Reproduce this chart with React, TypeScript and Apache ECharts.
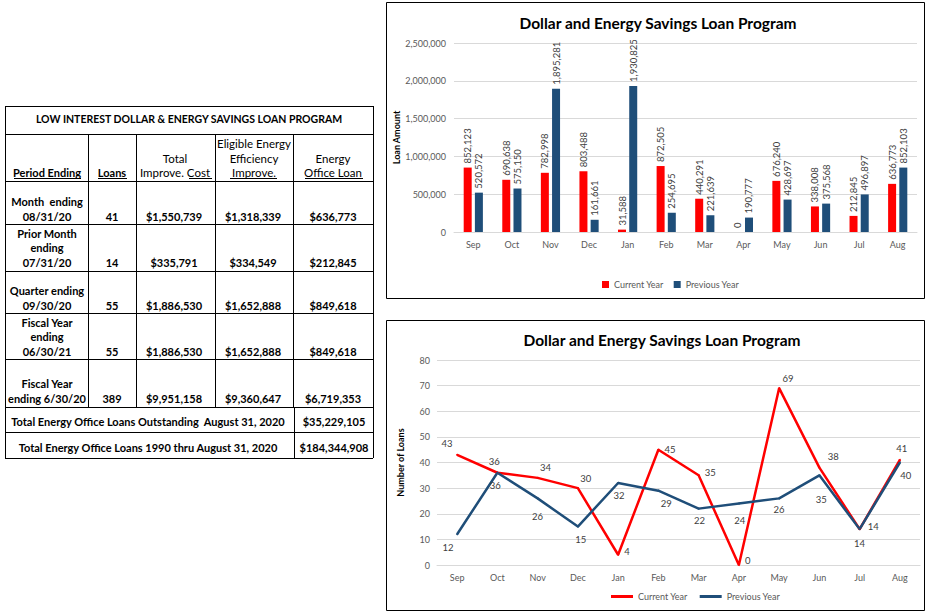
import React, { useEffect, useRef } from "react";
import * as echarts from "echarts";

const months = ["Sep", "Oct", "Nov", "Dec", "Jan", "Feb", "Mar", "Apr", "May", "Jun", "Jul", "Aug"];
const amountCurrent = [852123, 690638, 782998, 803488, 31588, 872505, 440291, 0, 676240, 338008, 212845, 636773];
const amountPrevious = [520572, 575150, 1895281, 161661, 1930825, 254695, 221639, 190777, 428697, 375568, 496897, 852103];
const countCurrent = [43, 36, 34, 30, 4, 45, 35, 0, 69, 38, 14, 41];
const countPrevious = [12, 36, 26, 15, 32, 29, 22, 24, 26, 35, 14, 40];

const chartTitle = "Dollar and Energy Savings Loan Program";
const seriesNames = ["Current Year", "Previous Year"];

const tableTitle = "LOW INTEREST DOLLAR & ENERGY SAVINGS LOAN PROGRAM";
const periodLabels = [
  ["Month  ending", "08/31/20"],
  ["Prior Month", "ending", "07/31/20"],
  ["Quarter ending", "09/30/20"],
  ["Fiscal Year", "ending", "06/30/21"],
  ["Fiscal Year", "ending 6/30/20"],
];
const loansCol = ["41", "14", "55", "55", "389"];
const totalImproveCost = ["$1,550,739", "$335,791", "$1,886,530", "$1,886,530", "$9,951,158"];
const eligibleImprove = ["$1,318,339", "$334,549", "$1,652,888", "$1,652,888", "$9,360,647"];
const officeLoan = ["$636,773", "$212,845", "$849,618", "$849,618", "$6,719,353"];
const totalsLabels = [
  "Total Energy Office Loans Outstanding  August 31, 2020",
  "Total Energy Office Loans 1990 thru August 31, 2020",
];
const totalsValues = ["$35,229,105", "$184,344,908"];

// label placement styling for the line chart (not data)
const curLabelPlace: [string, number[]][] = [
  ["top", [-10, 0]], ["top", [-3, 0]], ["top", [8, 1]], ["top", [8, 1]], ["right", [0, -3]], ["right", [0, 0]],
  ["right", [0, -3]], ["right", [0, -5]], ["top", [9, 1]], ["top", [14, 0]], ["right", [2, -3]], ["top", [2, 0]],
];
const prevLabelPlace: [string, number[]][] = [
  ["bottom", [-9, 2]], ["bottom", [-2, 2]], ["bottom", [0, 7]], ["bottom", [3, 2]], ["bottom", [1, 1]], ["bottom", [8, 2]],
  ["bottom", [1, 1]], ["bottom", [1, 6]], ["bottom", [0, 0]], ["bottom", [2, 13]], ["bottom", [0, 3]], ["bottom", [6, 2]],
];

const RED = "#ff0000";
const BLUE = "#1f4e79";
const FONT = "Lato";

function buildTable(): any[] {
  const els: any[] = [];
  const xs = [5, 88, 136, 215, 293, 373];
  const ys = [106, 134, 181, 224, 271, 313, 359, 407, 432, 458];
  const lineStyle = { stroke: "#000", lineWidth: 1 };
  const ln = (x1: number, y1: number, x2: number, y2: number) =>
    els.push({ type: "line", shape: { x1, y1, x2, y2 }, style: lineStyle, silent: true });
  ys.forEach((y) => ln(xs[0], y + 0.5, xs[5], y + 0.5));
  ln(xs[0] + 0.5, ys[0], xs[0] + 0.5, ys[9]);
  ln(xs[5] + 0.5, ys[0], xs[5] + 0.5, ys[9]);
  for (let i = 1; i < 5; i++) ln(xs[i] + 0.5, ys[1], xs[i] + 0.5, ys[7]);
  ln(294.5, ys[7], 294.5, ys[9]);

  const txt = (text: string, x: number, y: number, bold = true, size = 11) =>
    els.push({
      type: "text",
      x,
      y,
      silent: true,
      style: {
        text,
        fill: "#000",
        font: `${bold ? "bold " : ""}${size}px ${FONT}`,
        align: "center",
        verticalAlign: "middle",
      },
    });
  txt(tableTitle, 189, 119, true, 10.5);
  txt("Period Ending", 47, 172);
  txt("Loans", 112, 172);
  txt("Total", 175, 158, false, 11.5);
  txt("Improve. Cost", 175, 172, false, 11.5);
  txt("Eligible Energy", 254, 143, false, 11.5);
  txt("Efficiency", 254, 158, false, 11.5);
  txt("Improve.", 254, 172, false, 11.5);
  txt("Energy", 333, 158, false, 11.5);
  txt("Office Loan", 333, 172, false, 11.5);
  ln(14, 178.5, 81, 178.5);
  ln(98, 178.5, 127, 178.5);
  ln(189, 178.5, 212, 178.5);
  ln(230, 178.5, 277, 178.5);
  ln(305, 178.5, 363, 178.5);

  const valueY = [216, 262, 305, 351, 398];
  periodLabels.forEach((lines, r) => {
    const n = lines.length;
    lines.forEach((s, k) => txt(s, 47, valueY[r] - (n - 1 - k) * 14.5));
    txt(loansCol[r], 112, valueY[r]);
    txt(totalImproveCost[r], 174, valueY[r]);
    txt(eligibleImprove[r], 253, valueY[r]);
    txt(officeLoan[r], 333, valueY[r]);
  });
  txt(totalsLabels[0], 148, 421);
  txt(totalsValues[0], 334, 421);
  txt(totalsLabels[1], 148, 447);
  txt(totalsValues[1], 334, 447);
  return els;
}

export default function App() {
  const ref = useRef<HTMLDivElement>(null);
  useEffect(() => {
    if (!ref.current) return;
    const chart = echarts.init(ref.current, undefined, { renderer: "svg" });
    const axisLabel = { color: "#595959", fontSize: 9, fontFamily: FONT };
    const barLabel = {
      show: true,
      position: "top",
      rotate: 90,
      align: "left",
      verticalAlign: "middle",
      distance: 4,
      color: "#404040",
      fontSize: 9.5,
      fontFamily: FONT,
      formatter: (p: any) => Number(p.value).toLocaleString("en-US"),
    };
    const lineLabelItem = (v: number, place: [string, number[]]) => ({
      value: v,
      label: { position: place[0], offset: place[1] },
    });
    const option: any = {
      animation: false,
      textStyle: { fontFamily: FONT },
      title: [
        {
          text: chartTitle,
          left: 653,
          top: 10,
          textAlign: "center",
          textStyle: { fontSize: 15.5, fontWeight: "bold", color: "#000", fontFamily: FONT },
        },
        {
          text: chartTitle,
          left: 657,
          top: 327,
          textAlign: "center",
          textStyle: { fontSize: 15.5, fontWeight: "bold", color: "#000", fontFamily: FONT },
        },
      ],
      legend: [
        {
          data: seriesNames,
          left: 597,
          top: 275,
          icon: "rect",
          itemWidth: 7,
          itemHeight: 7,
          itemGap: 10,
          textStyle: { fontSize: 9, color: "#595959", fontFamily: FONT },
        },
        {
          data: seriesNames,
          left: 606,
          top: 587,
          icon: "rect",
          itemWidth: 22,
          itemHeight: 3,
          itemGap: 12,
          textStyle: { fontSize: 9, color: "#595959", fontFamily: FONT },
        },
      ],
      grid: [
        { left: 454, right: 10, top: 43, height: 189, containLabel: false },
        { left: 437, right: 7, top: 360, height: 205, containLabel: false },
      ],
      xAxis: [
        {
          type: "category",
          gridIndex: 0,
          data: months,
          axisTick: { show: false },
          axisLine: { lineStyle: { color: "#d9d9d9" } },
          axisLabel: { ...axisLabel, margin: 8 },
        },
        {
          type: "category",
          gridIndex: 1,
          data: months,
          axisTick: { show: false },
          axisLine: { lineStyle: { color: "#d9d9d9" } },
          axisLabel: { ...axisLabel, margin: 8 },
        },
      ],
      yAxis: [
        {
          type: "value",
          gridIndex: 0,
          min: 0,
          max: 2500000,
          interval: 500000,
          name: "Loan Amount",
          nameLocation: "middle",
          nameRotate: 90,
          nameGap: 52,
          nameTextStyle: { fontWeight: "bold", fontSize: 9, color: "#000", fontFamily: FONT },
          axisLabel: { ...axisLabel, margin: 8, formatter: (v: number) => v.toLocaleString("en-US") },
          splitLine: { lineStyle: { color: "#d9d9d9" } },
          axisLine: { show: false },
          axisTick: { show: false },
        },
        {
          type: "value",
          gridIndex: 1,
          min: 0,
          max: 80,
          interval: 10,
          name: "Number of Loans",
          nameLocation: "middle",
          nameRotate: 90,
          nameGap: 32,
          nameTextStyle: { fontWeight: "bold", fontSize: 9, color: "#000", fontFamily: FONT },
          axisLabel: { ...axisLabel, margin: 7 },
          splitLine: { lineStyle: { color: "#d9d9d9" } },
          axisLine: { show: false },
          axisTick: { show: false },
        },
      ],
      series: [
        {
          name: seriesNames[0],
          type: "bar",
          xAxisIndex: 0,
          yAxisIndex: 0,
          data: amountCurrent,
          barWidth: 8,
          barGap: "40%",
          itemStyle: { color: RED },
          label: barLabel,
        },
        {
          name: seriesNames[1],
          type: "bar",
          xAxisIndex: 0,
          yAxisIndex: 0,
          data: amountPrevious,
          barWidth: 8,
          barGap: "40%",
          itemStyle: { color: BLUE },
          label: barLabel,
        },
        {
          name: seriesNames[0],
          type: "line",
          xAxisIndex: 1,
          yAxisIndex: 1,
          data: countCurrent.map((v, i) => lineLabelItem(v, curLabelPlace[i])),
          symbol: "circle",
          symbolSize: 2,
          lineStyle: { color: RED, width: 2.5 },
          itemStyle: { color: RED },
          label: { show: true, color: "#404040", fontSize: 9.5, fontFamily: FONT },
        },
        {
          name: seriesNames[1],
          type: "line",
          xAxisIndex: 1,
          yAxisIndex: 1,
          data: countPrevious.map((v, i) => lineLabelItem(v, prevLabelPlace[i])),
          symbol: "circle",
          symbolSize: 2,
          lineStyle: { color: BLUE, width: 2.5 },
          itemStyle: { color: BLUE },
          label: { show: true, color: "#404040", fontSize: 9.5, fontFamily: FONT },
        },
      ],
      graphic: [
        {
          type: "rect",
          shape: { x: 386.5, y: 2.5, width: 538, height: 296 },
          style: { fill: "none", stroke: "#000", lineWidth: 1 },
          silent: true,
        },
        {
          type: "rect",
          shape: { x: 386.5, y: 320.5, width: 538, height: 290 },
          style: { fill: "none", stroke: "#000", lineWidth: 1 },
          silent: true,
        },
        ...buildTable(),
      ],
    };
    chart.setOption(option);
    return () => chart.dispose();
  }, []);
  return (
    <div
      ref={ref}
      style={{ position: "fixed", left: 0, top: 0, width: 927, height: 613, background: "#fff" }}
    />
  );
}
